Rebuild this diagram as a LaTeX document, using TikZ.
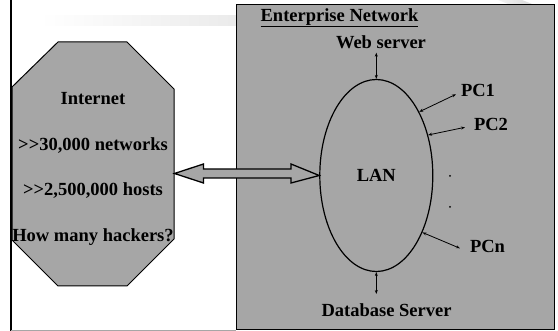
\documentclass[tikz,border=0pt]{standalone}
\usepackage{fontspec}
\setmainfont{Liberation Serif}
\usetikzlibrary{shapes.geometric,arrows.meta}
\definecolor{boxgray}{RGB}{166,166,166}
\begin{document}
\begin{tikzpicture}[x=1pt,y=-1pt,
  lbl/.style={font=\bfseries\fontsize{18.5}{20}\selectfont, inner sep=0pt, text height=12.3pt, text depth=0pt, anchor=center},
  shapeline/.style={draw=black, line width=1pt},
  smallarr/.style={{Stealth[length=4pt,width=3pt]}-{Stealth[length=4pt,width=3pt]}, line width=0.8pt},
  dotmark/.style={circle, fill=black, inner sep=0pt, minimum size=2pt}
]
\useasboundingbox (0,0) rectangle (558,331);
% faint slide decoration
\shade[left color=white, right color=black!8] (40,16) rectangle (236,26);
\shade[left color=black!5, right color=black!15] (498,0) -- (522,0) -- (532,4) -- (508,4) -- cycle;
% frame
\draw[line width=1.5pt] (11,0) -- (11,331);
\draw[black!35, line width=1pt] (11,330.5) -- (236,330.5);
% enterprise box
\draw[shapeline, fill=boxgray] (236,4.3) rectangle (554,330);
% internet octagon
\draw[shapeline, fill=boxgray] (58,42) -- (127,42) -- (174,89) -- (174,239) -- (127,286) -- (58,286) -- (12,240) -- (12,87) -- cycle;
\node[lbl] (inet) at (93,98) {Internet};
\node[lbl] (nets) at (93,144) {>{}>30,000 networks};
\node[lbl] (hosts) at (93,189.5) {>{}>2,500,000 hosts};
\node[lbl] (hack) at (93,235) {How many hackers?};
% LAN
\node[ellipse, draw=black, line width=1.2pt, minimum width=113pt, minimum height=192pt, inner sep=0pt, font=\bfseries\fontsize{18.5}{20}\selectfont, text height=12.3pt, text depth=0pt] (lan) at (376.3,175.5) {LAN};
% block double arrow
\draw[shapeline, line width=1.3pt, fill=boxgray, line join=miter]
  (174.5,173.5) -- (203.5,164) -- (203.5,169) -- (291,169) -- (291,164) -- (lan.west) -- (291,183) -- (291,178) -- (203.5,178) -- (203.5,183) -- cycle;
% labels
\node[lbl] (ent) at (339.5,15) {\underline{Enterprise Network}};
\node[lbl] (web) at (381,42.5) {Web server};
\node[lbl] (pc1) at (478,90) {PC1};
\node[lbl] (pc2) at (491,124.5) {PC2};
\node[lbl] (pcn) at (487.5,246.5) {PCn};
\node[lbl] (db) at (386.5,310.5) {Database Server};
\node[dotmark] (dot1) at (450,176) {};
\node[dotmark] (dot2) at (450,207) {};
% arrow ends
\coordinate (webend) at (376.3,52.7);
\coordinate (dbend) at (376.3,294);
\coordinate (pc1end) at (456,94.3);
\coordinate (pc2end) at (465,127.3);
\coordinate (pcnend) at (460,248.3);
\draw[smallarr] (lan.north) -- (webend);
\draw[smallarr] (lan.south) -- (dbend);
\draw[smallarr] (lan.56) -- (pc1end);
\draw[smallarr] (lan.38) -- (pc2end);
\draw[smallarr] (lan.-51) -- (pcnend);
\end{tikzpicture}
\end{document}
